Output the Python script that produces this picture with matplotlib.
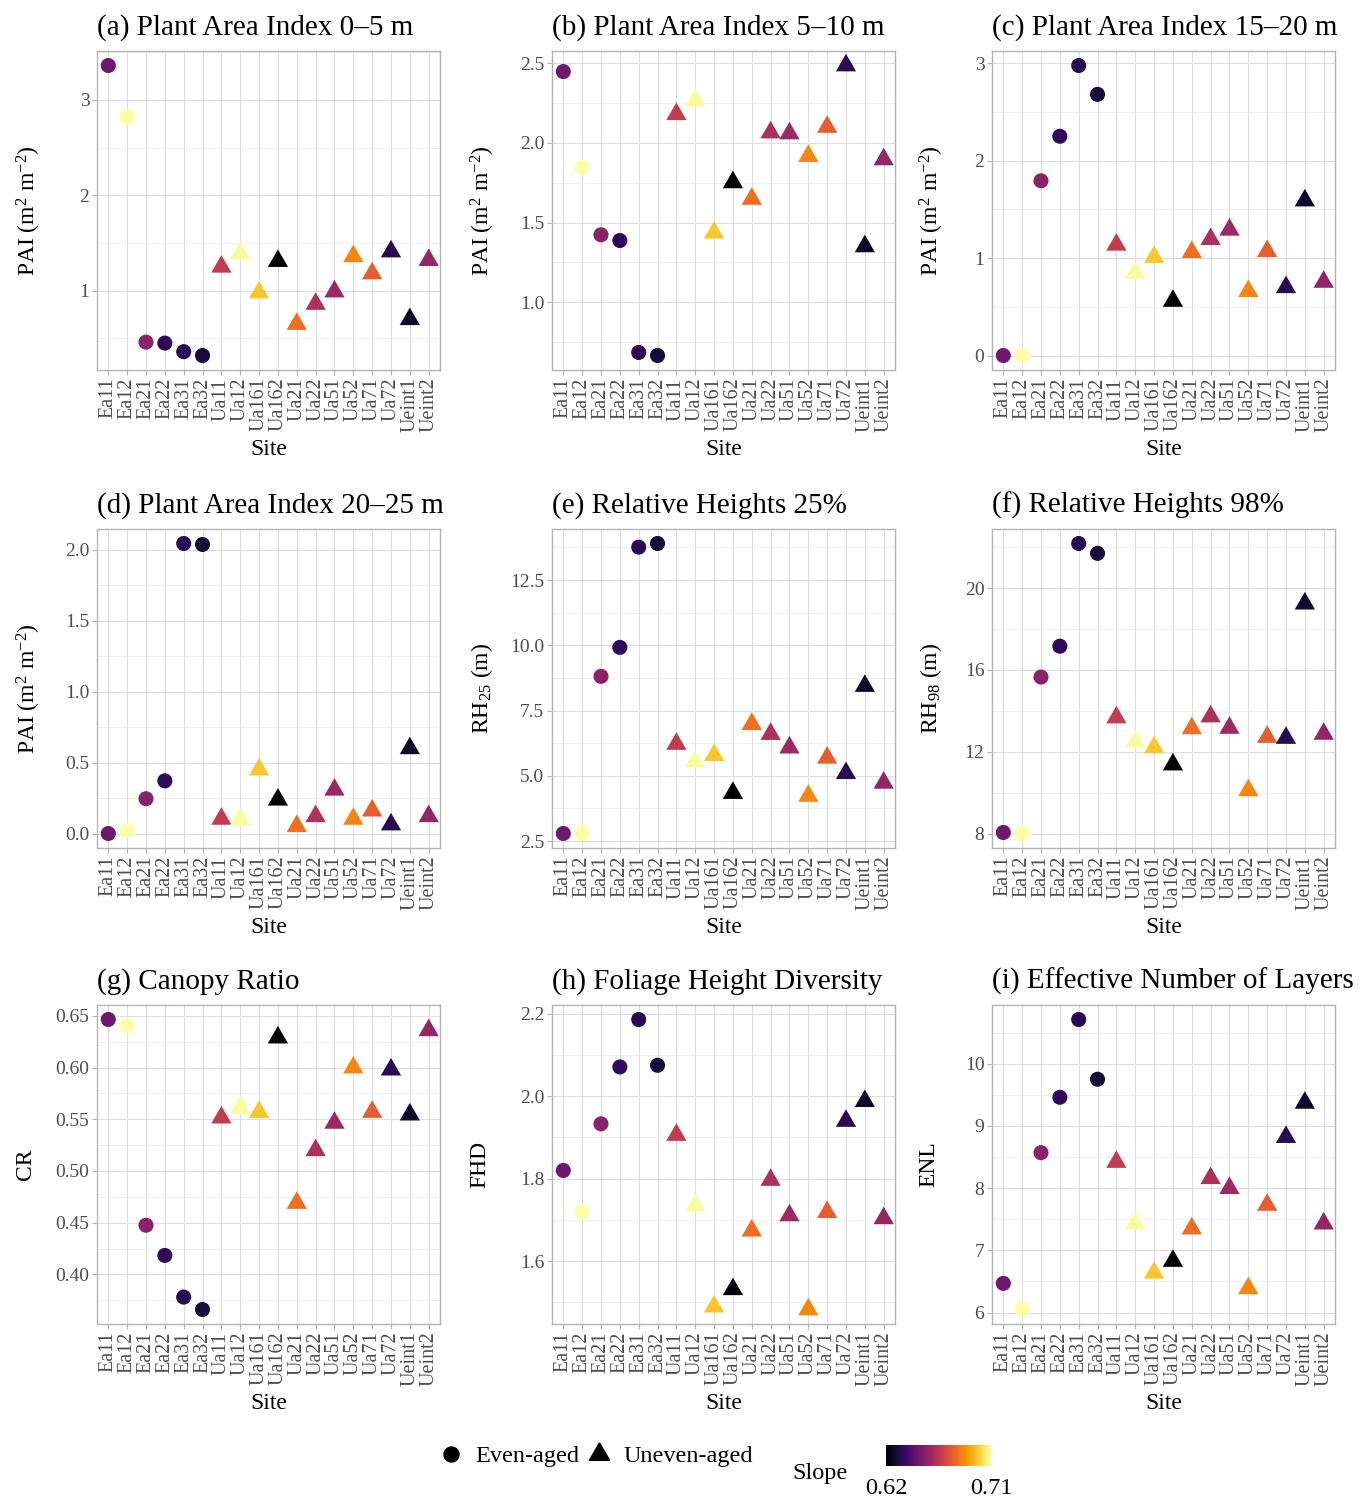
import numpy as np
import matplotlib.pyplot as plt
from matplotlib.colors import Normalize
from matplotlib.cm import ScalarMappable
from matplotlib.lines import Line2D

plt.rcParams['font.family'] = ['Liberation Serif', 'DejaVu Serif']
plt.rcParams['mathtext.fontset'] = 'custom'
plt.rcParams['mathtext.rm'] = 'Liberation Serif'
plt.rcParams['mathtext.it'] = 'Liberation Serif:italic'

sites = ['Ea11', 'Ea12', 'Ea21', 'Ea22', 'Ea31', 'Ea32', 'Ua11', 'Ua12', 'Ua161',
         'Ua162', 'Ua21', 'Ua22', 'Ua51', 'Ua52', 'Ua71', 'Ua72', 'Ueint1', 'Ueint2']
stand = ['Even-aged'] * 6 + ['Uneven-aged'] * 12
slope = [0.648, 0.710, 0.654, 0.634, 0.633, 0.629, 0.667, 0.709, 0.698,
         0.620, 0.681, 0.662, 0.658, 0.686, 0.677, 0.633, 0.627, 0.656]

pai_0_5 = [3.36, 2.82, 0.46, 0.45, 0.36, 0.32, 1.25, 1.39, 0.98,
           1.31, 0.65, 0.86, 0.99, 1.36, 1.18, 1.41, 0.70, 1.32]
pai_5_10 = [2.448, 1.846, 1.423, 1.387, 0.684, 0.665, 2.18, 2.267, 1.436,
            1.752, 1.648, 2.065, 2.059, 1.917, 2.10, 2.486, 1.35, 1.896]
pai_15_20 = [0.0, 0.0, 1.793, 2.25, 2.976, 2.68, 1.136, 0.847, 1.01,
             0.56, 1.06, 1.194, 1.29, 0.66, 1.07, 0.70, 1.59, 0.755]
pai_20_25 = [0.0, 0.021, 0.245, 0.371, 2.043, 2.036, 0.103, 0.098, 0.45,
             0.238, 0.051, 0.121, 0.308, 0.103, 0.161, 0.063, 0.60, 0.121]
rh25 = [2.79, 2.79, 8.81, 9.92, 13.76, 13.90, 6.22, 5.55, 5.79,
        4.34, 6.98, 6.60, 6.08, 4.23, 5.69, 5.10, 8.44, 4.73]
rh98 = [8.05, 8.0, 15.65, 17.16, 22.18, 21.70, 13.67, 12.48, 12.21,
        11.37, 13.14, 13.72, 13.16, 10.11, 12.72, 12.67, 19.24, 12.87]
canopy_ratio = [0.6465, 0.6404, 0.4475, 0.4183, 0.378, 0.366, 0.5516, 0.561, 0.557,
                0.629, 0.469, 0.520, 0.5465, 0.600, 0.557, 0.598, 0.5545, 0.636]
fhd = [1.82, 1.72, 1.933, 2.071, 2.186, 2.075, 1.906, 1.735, 1.49,
       1.532, 1.674, 1.797, 1.711, 1.483, 1.719, 1.94, 1.988, 1.704]
enl = [6.47, 6.05, 8.57, 9.46, 10.71, 9.75, 8.42, 7.43, 6.64,
       6.83, 7.35, 8.16, 8.0, 6.39, 7.73, 8.82, 9.37, 7.43]

titles = ['(a) Plant Area Index 0–5 m', '(b) Plant Area Index 5–10 m',
          '(c) Plant Area Index 15–20 m', '(d) Plant Area Index 20–25 m',
          '(e) Relative Heights 25%', '(f) Relative Heights 98%',
          '(g) Canopy Ratio', '(h) Foliage Height Diversity',
          '(i) Effective Number of Layers']
pai_label = r'PAI (m$^{2}$ m$^{-2}$)'
ylabels = [pai_label, pai_label, pai_label, pai_label,
           r'RH$_{25}$ (m)', r'RH$_{98}$ (m)', 'CR', 'FHD', 'ENL']
yticks = [['1', '2', '3'],
          ['1.0', '1.5', '2.0', '2.5'],
          ['0', '1', '2', '3'],
          ['0.0', '0.5', '1.0', '1.5', '2.0'],
          ['2.5', '5.0', '7.5', '10.0', '12.5'],
          ['8', '12', '16', '20'],
          ['0.40', '0.45', '0.50', '0.55', '0.60', '0.65'],
          ['1.6', '1.8', '2.0', '2.2'],
          ['6', '7', '8', '9', '10']]
values = [pai_0_5, pai_5_10, pai_15_20, pai_20_25, rh25, rh98, canopy_ratio, fhd, enl]

# triangle with its centroid on the data point
tri = [(0, 1), (-0.866, -0.5), (0.866, -0.5), (0, 1)]
norm = Normalize(vmin=min(slope), vmax=max(slope))
cmap = plt.get_cmap('inferno')

W, H = 1370, 1497
fig = plt.figure(figsize=(W / 100, H / 100), dpi=100)

col_left = [97, 552, 992]
row_top = [51, 529, 1005]
pw, ph = 343, 319
ylab_x = [15, 469, 918]

x = np.arange(len(sites))
slope_arr = np.array(slope)
even = np.array([s == 'Even-aged' for s in stand])

for i, (title, ylab, ticks, vals) in enumerate(zip(titles, ylabels, yticks, values)):
    r, c = divmod(i, 3)
    ax = fig.add_axes([col_left[c] / W, 1 - (row_top[r] + ph) / H, pw / W, ph / H])
    v = np.array(vals)

    ax.scatter(x[even], v[even], c=slope_arr[even], cmap=cmap, norm=norm,
               marker='o', s=118, linewidths=0, zorder=3)
    ax.scatter(x[~even], v[~even], c=slope_arr[~even], cmap=cmap, norm=norm,
               marker=tri, s=285, linewidths=0, zorder=3)

    tv = [float(t) for t in ticks]
    step = tv[1] - tv[0]
    ax.set_yticks(tv)
    ax.set_yticklabels(ticks)
    minor = [t - step / 2 for t in tv] + [tv[-1] + step / 2]
    ax.set_yticks(minor, minor=True)
    ax.set_xticks(x)
    ax.set_xticklabels(sites, rotation=90)

    # 5% padding on the value range, 0.6 on the discrete axis
    lo, hi = v.min(), v.max()
    pad = 0.05 * (hi - lo)
    ax.set_ylim(lo - pad, hi + pad)
    ax.set_xlim(-0.6, len(sites) - 0.4)

    ax.grid(True, which='major', color='#dedede', linewidth=0.8, zorder=0)
    ax.grid(True, which='minor', axis='y', color='#ececec', linewidth=0.5, zorder=0)
    ax.set_axisbelow(True)
    for sp in ax.spines.values():
        sp.set_color('#b3b3b3')
        sp.set_linewidth(1.0)
    ax.tick_params(which='major', color='#b3b3b3', length=3.5, width=0.8,
                   labelcolor='#4d4d4d', pad=2)
    ax.tick_params(axis='y', labelsize=14)
    ax.tick_params(axis='x', labelsize=14.5)
    ax.tick_params(which='minor', length=0)

    ax.set_title(title, loc='left', fontsize=21, pad=12)
    ax.set_xlabel('Site', fontsize=17, labelpad=5)
    ax.set_ylabel(ylab, fontsize=17)
    ax.yaxis.label.set_va('top')
    ax.yaxis.set_label_coords((ylab_x[c] - col_left[c]) / pw, 0.5)

# shape legend
handles = [Line2D([], [], marker='o', color='black', linestyle='', markersize=10.8),
           Line2D([], [], marker=tri, color='black', linestyle='', markersize=16.8)]
fig.legend(handles, ['Even-aged', 'Uneven-aged'], loc='center',
           bbox_to_anchor=(596 / W, 1 - 1456 / H), ncol=2, frameon=False,
           fontsize=17.5, handletextpad=0.5, columnspacing=0.3, handlelength=1.0)

# slope colour bar
cax = fig.add_axes([886 / W, 1 - 1466 / H, 105 / W, 21 / H])
cb = fig.colorbar(ScalarMappable(norm=norm, cmap=cmap), cax=cax, orientation='horizontal')
cb.outline.set_visible(False)
cb.set_ticks([min(slope), max(slope)])
cb.set_ticklabels(['%.2f' % min(slope), '%.2f' % max(slope)])
cb.ax.tick_params(length=0, labelsize=17.5, pad=9, labelcolor='black')
fig.text(820 / W, 1 - 1474 / H, 'Slope', fontsize=17.5, ha='center', va='center')

fig.savefig('out.png', dpi=100, facecolor='white')
